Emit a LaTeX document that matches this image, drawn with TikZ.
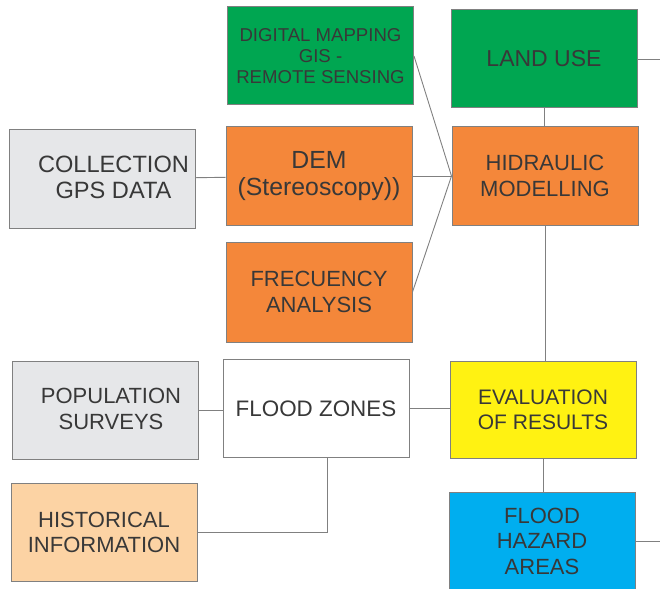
\documentclass[tikz,border=0pt]{standalone}
\usepackage{fontspec}
\setmainfont{Liberation Sans}
\usetikzlibrary{positioning}

\definecolor{boxgreen}{HTML}{00A651}
\definecolor{boxorange}{HTML}{F4873A}
\definecolor{boxgrey}{HTML}{E6E7E9}
\definecolor{boxpeach}{HTML}{FCD3A4}
\definecolor{boxyellow}{HTML}{FFF212}
\definecolor{boxblue}{HTML}{00AEEF}
\definecolor{edge}{HTML}{808080}
\definecolor{ink}{HTML}{383838}

\begin{document}
\begin{tikzpicture}[x=1pt, y=-1pt,
  box/.style={draw=edge, line width=1pt, minimum width=186pt, minimum height=98pt,
    inner sep=0pt, align=center, text=ink, font=\fontsize{22}{25.5}\selectfont},
  boxtext/.style={inner sep=0pt, align=center, text=ink, font=\fontsize{22}{25.5}\selectfont},
  link/.style={draw=edge, line width=0.9pt}]
  \useasboundingbox (0,0) rectangle (660,588);

  % input data
  \node[box, fill=boxgreen, font=\fontsize{18.6}{20.8}\selectfont] (mapping) at (320.5,56)
    {DIGITAL MAPPING\\GIS -\\REMOTE SENSING};
  \node[box, fill=boxorange, font=\fontsize{24.8}{27}\selectfont] (dem) at (319,176)
    {DEM\\(Stereoscopy))};
  \node[box, fill=boxorange, minimum height=100pt] (freq) at (319,292)
    {FRECUENCY\\ANALYSIS};
  \node[box, fill=boxgrey] (gps) at (102.5,179) {};
  \node[boxtext, font=\fontsize{23.6}{26}\selectfont] (gpstext) at (113.5,177)
    {COLLECTION\\GPS DATA};

  % model
  \node[box, fill=boxgreen, font=\fontsize{23}{26}\selectfont] (landuse) at (544,59) {LAND USE};
  \node[box, fill=boxorange] (hydro) at (545,176) {HIDRAULIC\\MODELLING};

  % field work and results
  \node[box, fill=boxgrey] (survey) at (105,410) {};
  \node[boxtext] (surveytext) at (111,409) {POPULATION\\SURVEYS};
  \node[box, fill=white, font=\fontsize{22.4}{25.5}\selectfont] (zones) at (316,408.5) {FLOOD ZONES};
  \node[box, fill=boxyellow, minimum height=97pt, font=\fontsize{21}{25}\selectfont] (eval) at (543,409.5)
    {EVALUATION\\OF RESULTS};
  \node[box, fill=boxpeach] (history) at (104,532.5) {HISTORICAL\\INFORMATION};
  \node[box, fill=boxblue] (hazard) at (542,541) {FLOOD\\HAZARD\\AREAS};

  \coordinate (landout) at (660,59);
  \coordinate (hazardout) at (660,541);

  % connectors
  \draw[link] (gps) -- (dem);
  \draw[link] (mapping.east) -- (hydro.west);
  \draw[link] (dem.east) -- (hydro.west);
  \draw[link] (freq.east) -- (hydro.west);
  \draw[link] (landuse.south) -- (landuse.south |- hydro.north);
  \draw[link] (landuse.east) -- (landout);
  \draw[link] (hydro.south) -- (hydro.south |- eval.north);
  \draw[link] (survey.east) -- (survey.east -| zones.west);
  \draw[link] (zones.east) -- (zones.east -| eval.west);
  \draw[link] (history.east) -| ([xshift=11pt]zones.south);
  \draw[link] (eval.south) -- (eval.south |- hazard.north);
  \draw[link] (hazard.east) -- (hazardout);
\end{tikzpicture}
\end{document}
